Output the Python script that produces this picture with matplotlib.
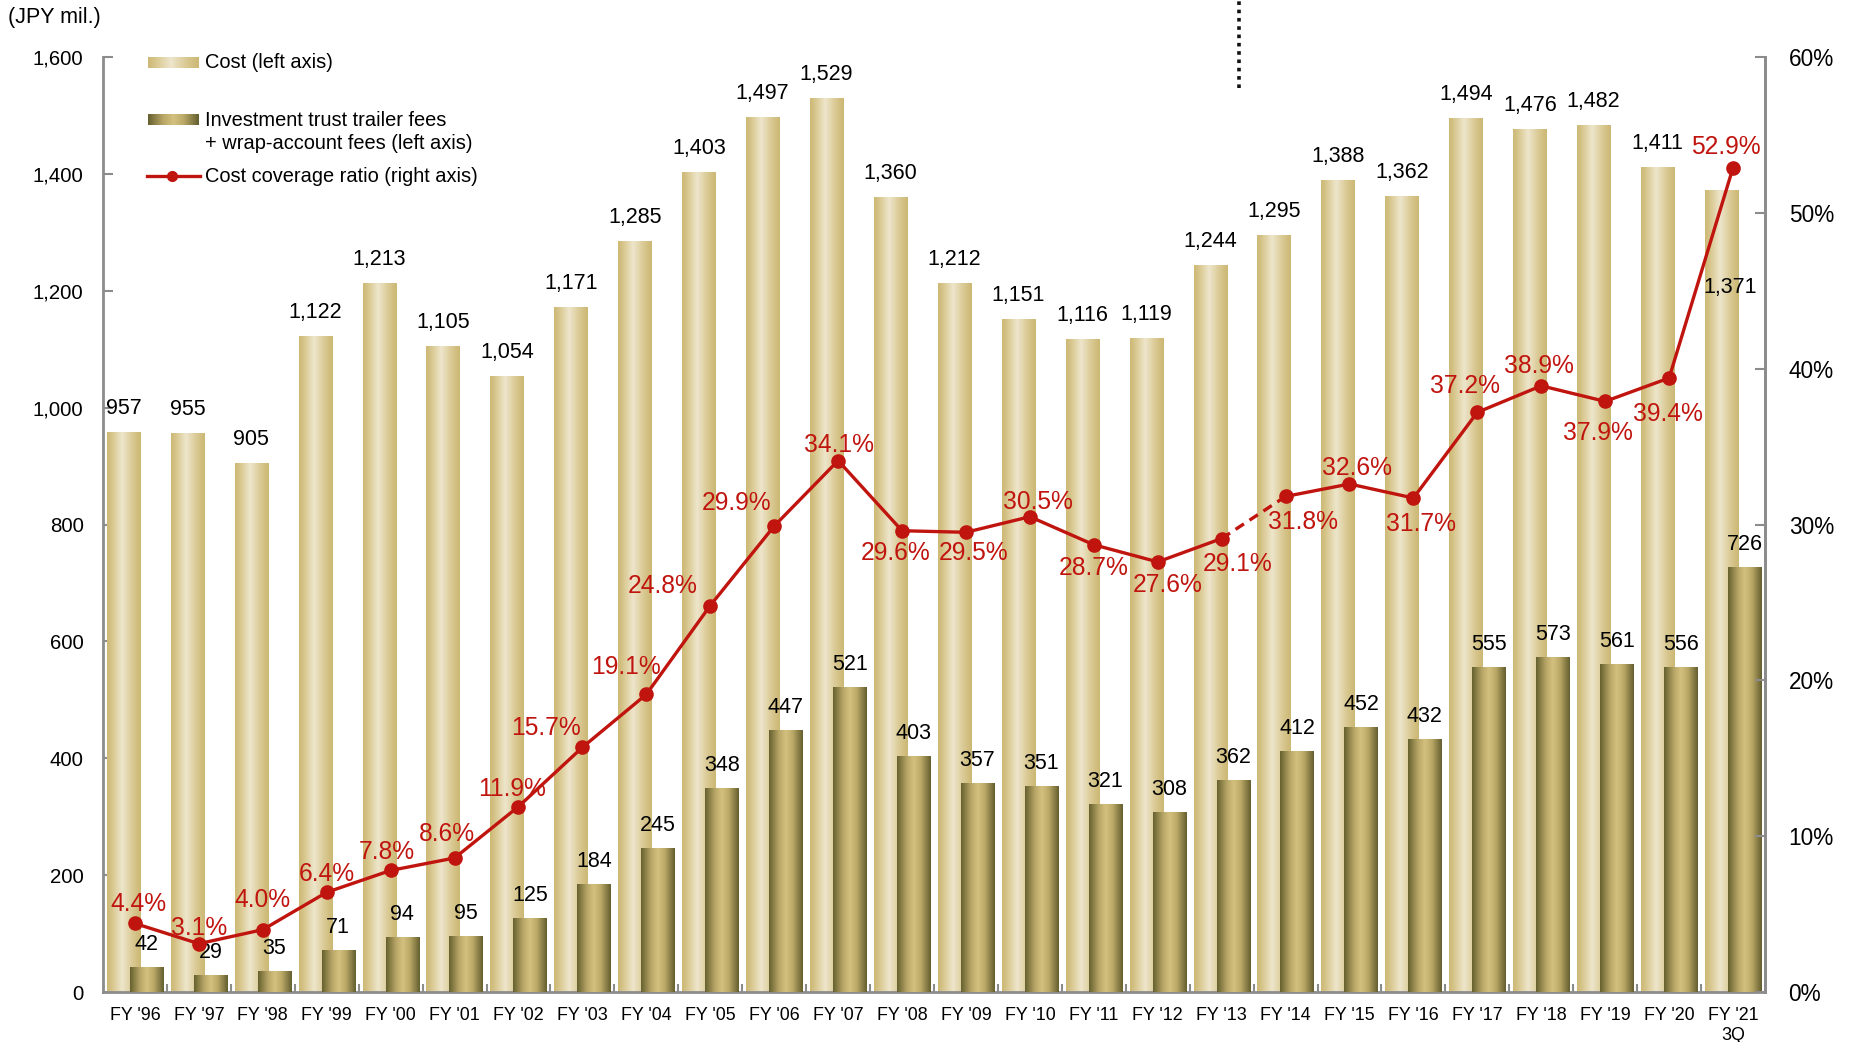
import numpy as np
import matplotlib
matplotlib.use('Agg')
import matplotlib.pyplot as plt
from matplotlib.colors import LinearSegmentedColormap
from matplotlib.transforms import blended_transform_factory

plt.rcParams['font.family'] = ['Liberation Sans', 'DejaVu Sans']

# data
years = ["FY '96", "FY '97", "FY '98", "FY '99", "FY '00", "FY '01", "FY '02",
         "FY '03", "FY '04", "FY '05", "FY '06", "FY '07", "FY '08", "FY '09",
         "FY '10", "FY '11", "FY '12", "FY '13", "FY '14", "FY '15", "FY '16",
         "FY '17", "FY '18", "FY '19", "FY '20", "FY '21\n3Q"]
cost = [957, 955, 905, 1122, 1213, 1105, 1054, 1171, 1285, 1403, 1497, 1529,
        1360, 1212, 1151, 1116, 1119, 1244, 1295, 1388, 1362, 1494, 1476, 1482,
        1411, 1371]
fees = [42, 29, 35, 71, 94, 95, 125, 184, 245, 348, 447, 521, 403, 357, 351,
        321, 308, 362, 412, 452, 432, 555, 573, 561, 556, 726]
ratio = [4.4, 3.1, 4.0, 6.4, 7.8, 8.6, 11.9, 15.7, 19.1, 24.8, 29.9, 34.1, 29.6,
         29.5, 30.5, 28.7, 27.6, 29.1, 31.8, 32.6, 31.7, 37.2, 38.9, 37.9, 39.4,
         52.9]

# label placement for the ratio labels (pixel offsets from the marker)
ratio_offsets = [(3, 19), (0, 16), (0, 30), (0, 18), (-4, 18), (-8, 24), (-6, 18),
                 (-36, 19), (-20, 27), (-48, 20), (-38, 23), (1, 16), (-6, -22),
                 (8, -21), (8, 15), (0, -23), (10, -23), (16, -25), (17, -26),
                 (8, 16), (8, -26), (-12, 26), (-2, 20), (-7, -32), (-1, -36),
                 (-7, 21)]

W, H = 1854, 1042
RED = '#c0140e'
GREY = '#8c8c8c'

cost_cmap = LinearSegmentedColormap.from_list('cost', [
    (0.0, '#cdb874'), (0.15, '#d7c68c'), (0.45, '#eee6cc'),
    (0.75, '#d9c993'), (1.0, '#ccb773')])
fee_cmap = LinearSegmentedColormap.from_list('fee', [
    (0.0, '#65602f'), (0.3, '#b9a767'), (0.5, '#d4c17f'),
    (0.7, '#bba968'), (1.0, '#635e2e')])
grad = np.linspace(0, 1, 256)[np.newaxis, :]

fig = plt.figure(figsize=(W / 100, H / 100), dpi=100)
ax = fig.add_axes([103 / W, 1 - 992 / H, (1765 - 103) / W, (992 - 57) / H])

x = np.arange(len(years))
bw, off = 0.52, 0.18
cost_bars = ax.bar(x - off, cost, bw, color='none', edgecolor='none')
fee_bars = ax.bar(x + off, fees, bw, color='none', edgecolor='none')

for bars, cmap, z in [(cost_bars, cost_cmap, 2), (fee_bars, fee_cmap, 3)]:
    for r in bars:
        x0, h = r.get_x(), r.get_height()
        ax.imshow(grad, cmap=cmap, extent=[x0, x0 + r.get_width(), 0, h],
                  aspect='auto', interpolation='bicubic', zorder=z)

for i, (c, f) in enumerate(zip(cost, fees)):
    if i == len(cost) - 1:
        ax.annotate(f'{c:,}', (x[i] - off, c), xytext=(9, -97),
                    textcoords='offset pixels', ha='center', va='center',
                    fontsize=15.5, zorder=5)
    else:
        ax.annotate(f'{c:,}', (x[i] - off, c), xytext=(0, 24),
                    textcoords='offset pixels', ha='center', va='center',
                    fontsize=15.5, zorder=5)
    ax.annotate(f'{f:,}', (x[i] + off, f), xytext=(0, 23),
                textcoords='offset pixels', ha='center', va='center',
                fontsize=15.5, zorder=5)

ax.set_xlim(-0.5, len(years) - 0.5)
ax.set_ylim(0, 1600)
ax.set_yticks(range(0, 1601, 200))
ax.set_yticklabels([f'{v:,}' for v in range(0, 1601, 200)])
ax.set_xticks(x)
ax.set_xticklabels(years)
ax.set_xticks(x[:-1] + 0.5, minor=True)
ax.tick_params(axis='y', direction='in', length=7, width=1.5, color=GREY,
               labelsize=14.7, pad=14)
ax.tick_params(axis='x', which='major', length=0, labelsize=12.9, pad=11)
ax.tick_params(axis='x', which='minor', direction='in', length=6, width=1.5,
               color=GREY)
for s in ['left', 'bottom', 'right']:
    ax.spines[s].set_color(GREY)
    ax.spines[s].set_linewidth(2)
ax.spines['top'].set_visible(False)

# cost coverage ratio on the right axis
ax2 = ax.twinx()
ax2.set_ylim(0, 60)
ax2.plot(x[:18], ratio[:18], color=RED, lw=2.4, zorder=4)
ax2.plot(x[17:19], ratio[17:19], color=RED, lw=2.4, ls=(0, (3, 2)), zorder=4)
ax2.plot(x[18:], ratio[18:], color=RED, lw=2.4, zorder=4)
ax2.plot(x, ratio, 'o', color=RED, ms=9.5, zorder=5)
for i, r in enumerate(ratio):
    ax2.annotate(f'{r:.1f}%', (x[i], r), xytext=ratio_offsets[i],
                 textcoords='offset pixels', ha='center', va='center',
                 fontsize=17.7, color=RED, zorder=6)
ax2.set_yticks(range(0, 61, 10))
ax2.set_yticklabels([f'{v}%' for v in range(0, 61, 10)])
ax2.tick_params(axis='y', direction='in', length=7, width=1.5, color=GREY,
                labelsize=16.3, pad=17)
ax2.spines['right'].set_color(GREY)
ax2.spines['right'].set_linewidth(2)
for s in ['top', 'left', 'bottom']:
    ax2.spines[s].set_visible(False)

# dotted marker line at the top
tr = blended_transform_factory(ax.transData, fig.transFigure)
ax.plot([17.27, 17.27], [1 - 88 / H, 1.0], transform=tr, color='#111111',
        lw=2.6, ls=(0, (1, 1.3)), clip_on=False)

# legend and unit label drawn in pixel coordinates
ov = fig.add_axes([0, 0, 1, 1])
ov.set_xlim(0, W)
ov.set_ylim(H, 0)
ov.axis('off')
ov.patch.set_alpha(0)
ov.imshow(grad, cmap=cost_cmap, extent=[148, 199, 68.5, 57.5], aspect='auto')
ov.imshow(grad, cmap=fee_cmap, extent=[148, 199, 125.5, 114.5], aspect='auto')
ov.plot([147, 200], [176, 176], color=RED, lw=2.4)
ov.plot([172], [176], 'o', color=RED, ms=7)
ov.set_xlim(0, W)
ov.set_ylim(H, 0)
ov.text(205, 63, 'Cost (left axis)', fontsize=14.4, va='center')
ov.text(205, 132, 'Investment trust trailer fees\n+ wrap-account fees (left axis)',
        fontsize=14.4, va='center', linespacing=1.3)
ov.text(205, 176, 'Cost coverage ratio (right axis)', fontsize=14.4, va='center')
ov.text(8, 17, '(JPY mil.)', fontsize=15.5, va='center')

fig.savefig('out.png', dpi=100)
